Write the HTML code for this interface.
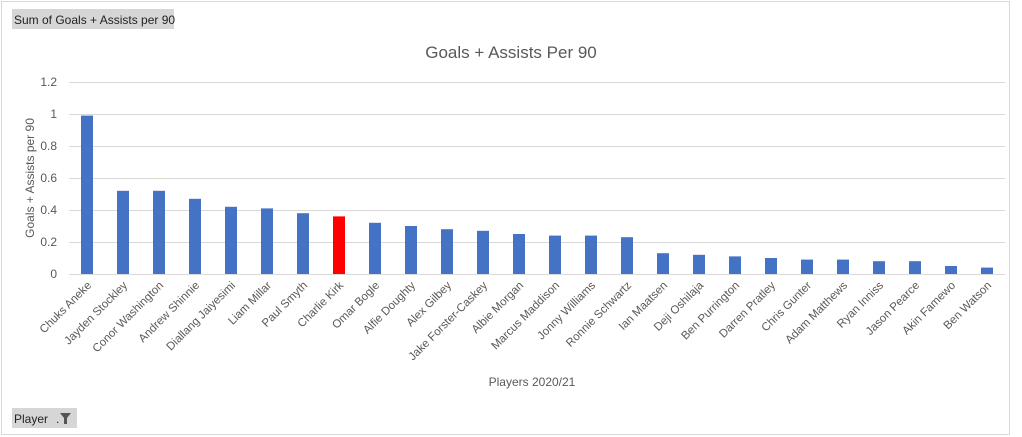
<!DOCTYPE html>
<html><head><style>body{margin:0;background:#fff}svg{display:block}</style></head><body>
<svg width="1022" height="437" xmlns="http://www.w3.org/2000/svg" font-family="Liberation Sans, sans-serif">
<rect x="0" y="0" width="1022" height="437" fill="#fff"/>
<rect x="1.5" y="1.5" width="1008" height="433" fill="none" stroke="#d9d9d9"/>
<rect x="12" y="9" width="162" height="20" fill="#d6d6d6"/>
<text x="14" y="24" font-size="12" fill="#222">Sum of Goals + Assists per 90</text>
<rect x="12" y="408" width="65" height="20" fill="#d6d6d6"/>
<text x="14" y="423" font-size="12" fill="#222">Player</text>
<text x="56" y="423" font-size="12" fill="#222">.</text>
<path d="M60 413 h11 l-4 5 v6 h-3 v-6z" fill="#555"/>
<text x="511" y="58" font-size="17" text-anchor="middle" fill="#595959">Goals + Assists Per 90</text>
<g stroke="#d9d9d9" stroke-width="1">
<line x1="69" x2="1005" y1="82.5" y2="82.5"/><line x1="69" x2="1005" y1="114.5" y2="114.5"/>
<line x1="69" x2="1005" y1="146.5" y2="146.5"/><line x1="69" x2="1005" y1="178.5" y2="178.5"/>
<line x1="69" x2="1005" y1="210.5" y2="210.5"/><line x1="69" x2="1005" y1="242.5" y2="242.5"/>
<line x1="69" x2="1005" y1="274.5" y2="274.5"/>
</g>
<g font-size="12" fill="#595959" text-anchor="end">
<text x="57" y="86">1.2</text><text x="57" y="118">1</text><text x="57" y="150">0.8</text>
<text x="57" y="182">0.6</text><text x="57" y="214">0.4</text><text x="57" y="246">0.2</text><text x="57" y="278">0</text>
</g>
<text transform="translate(34,178) rotate(-90)" font-size="12" fill="#595959" text-anchor="middle">Goals + Assists per 90</text>
<text x="532" y="386" font-size="12" fill="#595959" text-anchor="middle">Players 2020/21</text>
<g id="bars"></g>
<g id="labels" font-size="11.5" fill="#595959" text-anchor="end"></g>
<script>
var d=[["Chuks Aneke",.99],["Jayden Stockley",.52],["Conor Washington",.52],["Andrew Shinnie",.47],["Diallang Jaiyesimi",.42],["Liam Millar",.41],["Paul Smyth",.38],["Charlie Kirk",.36],["Omar Bogle",.32],["Alfie Doughty",.30],["Alex Gilbey",.28],["Jake Forster-Caskey",.27],["Albie Morgan",.25],["Marcus Maddison",.24],["Jonny Williams",.24],["Ronnie Schwartz",.23],["Ian Maatsen",.13],["Deji Oshilaja",.12],["Ben Purrington",.11],["Darren Pratley",.10],["Chris Gunter",.09],["Adam Matthews",.09],["Ryan Inniss",.08],["Jason Pearce",.08],["Akin Famewo",.05],["Ben Watson",.04]];
var ns="http://www.w3.org/2000/svg",b=document.getElementById("bars"),l=document.getElementById("labels");
d.forEach(function(e,i){var c=87+i*36,h=e[1]*160;
var r=document.createElementNS(ns,"rect");r.setAttribute("x",c-6);r.setAttribute("y",274-h);r.setAttribute("width",12);r.setAttribute("height",h);r.setAttribute("fill",i==7?"#ff0000":"#4472c4");b.appendChild(r);
var t=document.createElementNS(ns,"text");t.setAttribute("transform","translate("+(c+5)+",286) rotate(-45)");t.textContent=e[0];l.appendChild(t);});
</script>
</svg>
</body></html>
